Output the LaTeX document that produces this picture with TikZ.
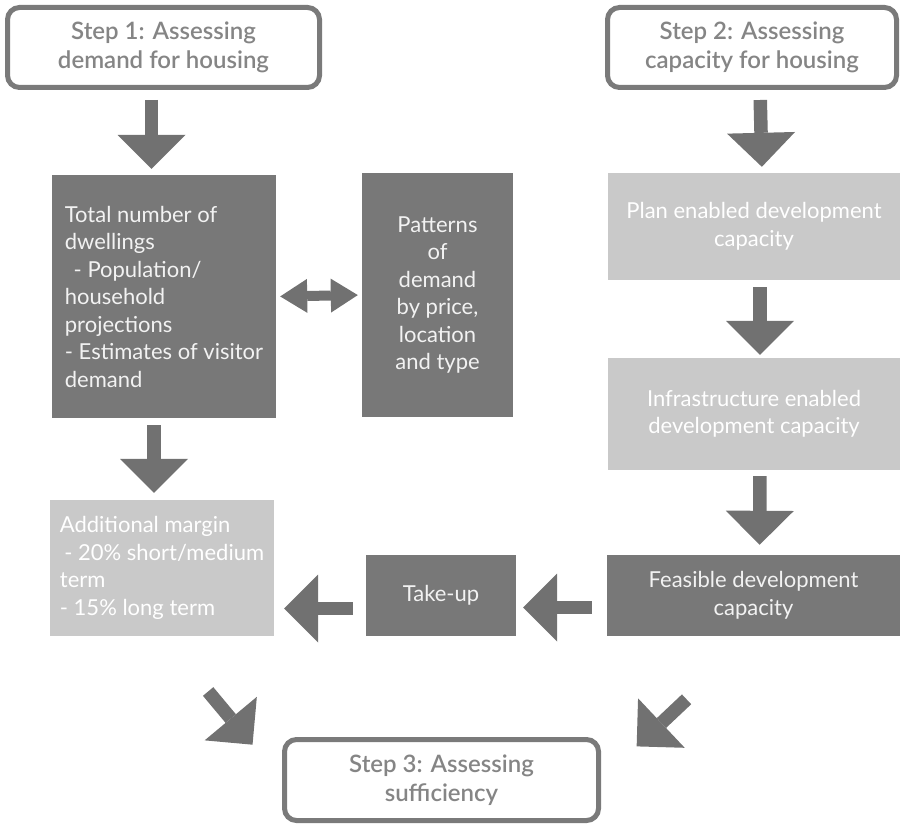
\documentclass[tikz,border=0pt]{standalone}
\usepackage{fontspec}
\setmainfont{Lato}
\newfontfamily\stepfont{Lato Semibold}
\usetikzlibrary{arrows.meta}
\definecolor{darkfill}{HTML}{787878}
\definecolor{lightfill}{HTML}{C9C9C9}
\definecolor{arrowfill}{HTML}{717171}
\definecolor{stepline}{HTML}{7A7A7A}
\definecolor{steptext}{HTML}{858585}
\newcommand{\boxfont}{\fontsize{22}{27.5}\selectfont}
\tikzset{
  stepbox/.style={draw=stepline, line width=5pt, rounded corners=12pt, fill=white,
    text=steptext, align=center, font=\fontsize{24}{28.5}\selectfont\stepfont},
  darkbox/.style={fill=darkfill, text=white!95!black, font=\boxfont},
  lightbox/.style={fill=lightfill, text=white, font=\boxfont},
  blockarrow/.style={draw=arrowfill, line width=13.5pt,
    -{Triangle[length=34pt,width=68pt,line width=0pt]}},
  twowayarrow/.style={draw=arrowfill, line width=10pt,
    {Triangle[length=27pt,width=34pt,line width=0pt]}-{Triangle[length=27pt,width=34pt,line width=0pt]}}
}

\begin{document}
\begin{tikzpicture}[x=1pt,y=-1pt]
  \useasboundingbox (0,0) rectangle (901,826);
  % the three steps
  \node[stepbox, minimum width=312pt, minimum height=80pt] (step1) at (163.5,47.5) {Step 1: Assessing\\demand for housing};
  \node[stepbox, minimum width=289pt, minimum height=80pt] (step2) at (752,47.5) {Step 2: Assessing\\capacity for housing};
  \node[stepbox, minimum width=314pt, minimum height=81pt] (step3) at (441.5,780) {Step 3: Assessing\\sufficiency};
  % demand side
  \node[darkbox, minimum width=224pt, minimum height=243pt, align=left] (total) at (164,296.5)
    {Total number of\\dwellings\\\hspace{0.4em}- Population/\\household\\projections\\- Estimates of visitor\\demand};
  \node[darkbox, minimum width=151pt, minimum height=244pt, align=center] (patterns) at (437.5,295)
    {Patterns\\of\\demand\\by price,\\location\\and type};
  \node[lightbox, minimum width=224pt, minimum height=136pt, align=left] (margin) at (162,568)
    {Additional margin\\\hspace{0.2em}- 20\% short/medium\\term\\- 15\% long term};
  \node[darkbox, minimum width=150pt, minimum height=81pt] (takeup) at (441,595.5) {Take-up};
  % capacity side
  \node[lightbox, minimum width=292pt, minimum height=107pt, align=center] (plan) at (754,226.5)
    {Plan enabled development\\capacity};
  \node[lightbox, minimum width=292pt, minimum height=112pt, align=center] (infra) at (754,414)
    {Infrastructure enabled\\development capacity};
  \node[darkbox, minimum width=293pt, minimum height=81pt, align=center] (feasible) at (753.5,595.5)
    {Feasible development\\capacity};
  % arrows
  \draw[blockarrow, shorten <=10pt, shorten >=6pt] ([xshift=-12pt]step1.south) -- ([xshift=-12pt]step1.south |- total.north);
  \draw[blockarrow, shorten <=7pt, shorten >=7pt] ([xshift=-8pt]margin.north |- total.south) -- ([xshift=-8pt]margin.north);
  \draw[twowayarrow, shorten <=4pt, shorten >=4pt] (total.east) -- (patterns.west);
  \draw[blockarrow, shorten <=10pt, shorten >=6pt] ([xshift=8pt]step2.south) -- ([xshift=8pt]plan.north);
  \draw[blockarrow, shorten <=7pt, shorten >=3pt] ([xshift=6pt]plan.south) -- ([xshift=6pt]infra.north);
  \draw[blockarrow, shorten <=6pt, shorten >=10pt] ([xshift=6pt]infra.south) -- ([xshift=6pt]feasible.north);
  \draw[blockarrow, shorten <=15pt, shorten >=7pt] ([yshift=-12pt]feasible.west) -- ([yshift=-12pt]feasible.west -| takeup.east);
  \draw[blockarrow, shorten <=13pt, shorten >=10pt] ([yshift=-13pt]takeup.west) -- ([yshift=-13pt]takeup.west -| margin.east);
  \draw[blockarrow, shorten <=72pt, shorten >=46pt] (margin.south) -- (step3.west);
  \draw[blockarrow, shorten <=92pt, shorten >=49pt] (feasible.south) -- (step3.east);
\end{tikzpicture}
\end{document}
